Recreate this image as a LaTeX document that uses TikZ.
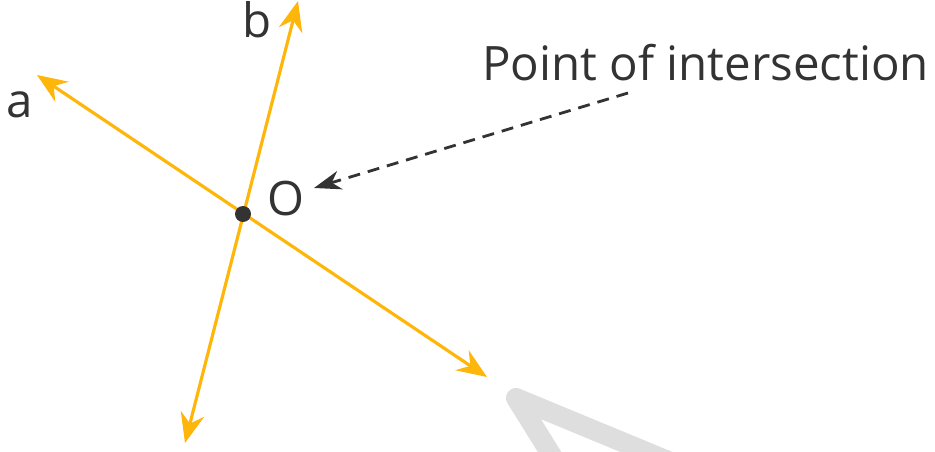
\documentclass[tikz,border=0pt]{standalone}
\usepackage{fontspec}
\setmainfont{Open Sans}
\usepackage{tikz}
\usetikzlibrary{positioning,arrows.meta,calc}
\definecolor{ray}{HTML}{FFB60A}
\definecolor{ink}{HTML}{333333}
\definecolor{wmark}{HTML}{DEDEDE}
\tikzset{
  line/.style={draw=ray, line width=1.8pt, {Stealth[length=6mm,width=4.8mm,inset=2mm]}-{Stealth[length=6mm,width=4.8mm,inset=2mm]}},
  lbl/.style={text=ink, font=\fontsize{27}{30}\selectfont, inner sep=0pt},
  pin/.style={draw=ink, line width=1.6pt, dash pattern=on 0.24cm off 0.16cm,
              -{Stealth[length=5.4mm,width=3.8mm,inset=1.7mm]}},
  dot/.style={circle, fill=ink, inner sep=0pt, minimum size=3.2mm},
}
\begin{document}
\begin{tikzpicture}[x=0.02cm,y=-0.02cm]
  \useasboundingbox (0,0) rectangle (935,452);
  \begin{scope}
    \clip (0,0) rectangle (935,452);
    \draw[wmark, line width=0.4cm, line join=round] (567,480) -- (516,398) -- (714,480);
  \end{scope}
  \coordinate (a1) at (37,75);
  \coordinate (a2) at (487,377);
  \coordinate (b1) at (298,1);
  \coordinate (b2) at (185,443);
  \draw[line] (a1) -- (a2);
  \draw[line] (b1) -- (b2);
  \node[dot] (o) at (243,214) {};
  \node[lbl, anchor=base] (la) at (20,118) {a};
  \node[lbl, anchor=base] (lb) at (257,38) {b};
  \node[lbl, anchor=base] (lo) at (286,216) {O};
  \node[lbl, anchor=base west] (pt) at (482,81) {Point of intersection};
  \coordinate (tail) at (628,93);
  \coordinate (head) at (314,188);
  \draw[pin] (tail) -- (head);
\end{tikzpicture}
\end{document}
